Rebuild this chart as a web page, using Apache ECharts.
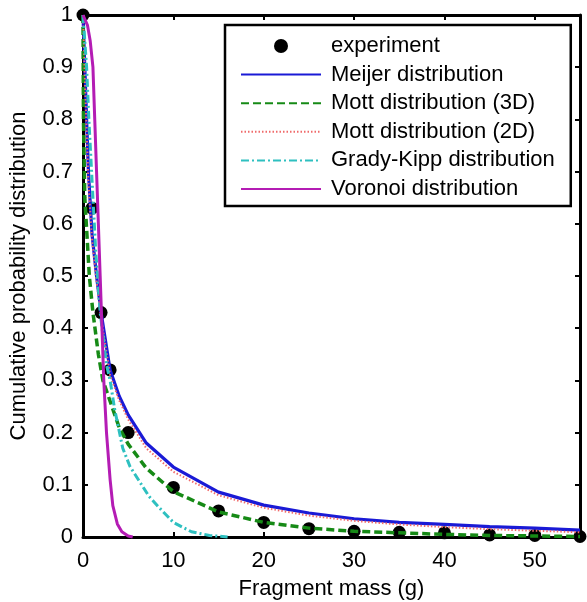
<!DOCTYPE html>
<html>
<head>
<meta charset="utf-8">
<script src="https://cdn.jsdelivr.net/npm/echarts@6/dist/echarts.min.js"></script>
<style>
html,body{margin:0;padding:0;background:#fff;}
#c{width:587px;height:602px;}
</style>
</head>
<body>
<div id="c"></div>
<script>
// ---- data ----
var xTicks = [0, 10, 20, 30, 40, 50];
var yTicks = [0, 0.1, 0.2, 0.3, 0.4, 0.5, 0.6, 0.7, 0.8, 0.9, 1];

var expX = [0, 1, 2, 3, 5, 10, 15, 20, 25, 30, 35, 40, 45, 50, 55];
var expY = [1, 0.63, 0.43, 0.32, 0.2, 0.095, 0.05, 0.028, 0.016, 0.011, 0.009, 0.008, 0.004, 0.003, 0.001];

var meijerX = [0, 0.2, 0.6, 1, 1.5, 2, 3, 4, 5, 7, 10, 15, 20, 25, 30, 35, 40, 45, 50, 55];
var meijerY = [1, 0.9, 0.7, 0.58, 0.5, 0.43, 0.32, 0.27, 0.234, 0.18, 0.134, 0.086, 0.061, 0.046, 0.035, 0.028, 0.024, 0.02, 0.017, 0.013];

var mott3dX = [0, 0.05, 0.2, 0.7, 1.1, 1.7, 2.2, 3, 4, 5, 7, 10, 15, 20, 25, 30, 35, 40, 45, 50, 55];
var mott3dY = [1, 0.8, 0.65, 0.5, 0.43, 0.35, 0.3, 0.26, 0.21, 0.178, 0.132, 0.087, 0.048, 0.028, 0.017, 0.011, 0.008, 0.005, 0.003, 0.002, 0.001];

var mott2dX = [0, 0.2, 0.6, 1, 1.5, 2, 3, 4, 5, 7, 10, 15, 20, 25, 30, 35, 40, 45, 50, 55];
var mott2dY = [1, 0.88, 0.68, 0.57, 0.49, 0.42, 0.31, 0.262, 0.225, 0.17, 0.125, 0.08, 0.056, 0.041, 0.031, 0.024, 0.019, 0.015, 0.012, 0.009];

var gkX = [0, 0.4, 0.65, 0.95, 1.4, 1.9, 2.6, 3, 3.5, 4.4, 5.2, 6.3, 7.3, 8.5, 10, 12, 14, 16];
var gkY = [1, 0.9, 0.8, 0.7, 0.55, 0.43, 0.33, 0.3, 0.245, 0.17, 0.135, 0.105, 0.078, 0.055, 0.028, 0.01, 0.003, 0];

var vorX = [0, 0.5, 0.8, 1.1, 1.3, 1.5, 1.7, 1.9, 2.1, 2.3, 2.6, 3.0, 3.3, 3.8, 4.3, 5, 5.5];
var vorY = [1, 0.98, 0.95, 0.9, 0.8, 0.7, 0.6, 0.5, 0.4, 0.3, 0.2, 0.11, 0.06, 0.025, 0.01, 0.002, 0];

var names = ['experiment', 'Meijer distribution', 'Mott distribution (3D)', 'Mott distribution (2D)', 'Grady-Kipp distribution', 'Voronoi distribution'];

function pairs(xs, ys) { return xs.map(function (x, i) { return [x, ys[i]]; }); }

var FONT = "'Liberation Sans', Arial, Helvetica, sans-serif";
var FS = 22;

var chart = echarts.init(document.getElementById('c'), null, {renderer: 'canvas'});

function axisCommon(showLabel) {
  return {
    axisLine: {show: true, onZero: false, lineStyle: {color: '#000', width: 3}},
    axisTick: {show: true, inside: true, length: 5, lineStyle: {color: '#000', width: 2}},
    splitLine: {show: false},
    axisLabel: {show: showLabel, color: '#000', fontSize: FS, fontFamily: FONT}
  };
}

var xb = axisCommon(true);
var xt = axisCommon(false);
var yl = axisCommon(true);
var yr = axisCommon(false);

var lineBase = {type: 'line', symbol: 'none', showSymbol: false, smooth: false, clip: false, animation: false, z: 3};

chart.setOption({
  animation: false,
  backgroundColor: '#fff',
  textStyle: {fontFamily: FONT},
  grid: {left: 83, right: 7, top: 15, bottom: 65, containLabel: false, outerBoundsMode: 'none'},
  xAxis: [
    Object.assign({type: 'value', position: 'bottom', min: xTicks[0], max: 55, interval: xTicks[1] - xTicks[0],
      name: 'Fragment mass (g)', nameLocation: 'middle', nameGap: 41,
      nameTextStyle: {color: '#000', fontSize: FS, fontFamily: FONT}}, xb,
      {axisLabel: Object.assign({}, xb.axisLabel, {margin: 13, showMaxLabel: false})}),
    Object.assign({type: 'value', position: 'top', min: xTicks[0], max: 55, interval: xTicks[1] - xTicks[0]}, xt)
  ],
  yAxis: [
    Object.assign({type: 'value', position: 'left', min: yTicks[0], max: yTicks[yTicks.length - 1], interval: 0.1,
      name: 'Cumulative probability distribution', nameLocation: 'middle', nameGap: 53,
      nameTextStyle: {color: '#000', fontSize: FS, fontFamily: FONT}}, yl,
      {axisLabel: Object.assign({}, yl.axisLabel, {margin: 10})}),
    Object.assign({type: 'value', position: 'right', min: yTicks[0], max: yTicks[yTicks.length - 1], interval: 0.1}, yr)
  ],
  legend: {
    orient: 'vertical',
    left: 225, top: 25,
    padding: [10, 16, 6, 15],
    itemWidth: 80, itemHeight: 14, itemGap: 6.6,
    backgroundColor: '#fff',
    borderColor: '#000', borderWidth: 2.5,
    textStyle: {color: '#000', fontSize: FS, fontFamily: FONT, lineHeight: 22, padding: [0, 0, 0, 5]},
    selectedMode: false,
    data: [
      {name: names[0], icon: 'circle', itemStyle: {color: '#000', opacity: 1}},
      {name: names[1], itemStyle: {opacity: 0}},
      {name: names[2], itemStyle: {opacity: 0}},
      {name: names[3], itemStyle: {opacity: 0}},
      {name: names[4], itemStyle: {opacity: 0}},
      {name: names[5], itemStyle: {opacity: 0}}
    ]
  },
  series: [
    {name: names[0], type: 'scatter', data: pairs(expX, expY), symbol: 'circle', symbolSize: 13,
      itemStyle: {color: '#000', opacity: 1}, clip: false, z: 2},
    Object.assign({}, lineBase, {name: names[1], data: pairs(meijerX, meijerY),
      lineStyle: {color: '#1a1ad6', width: 3.2, type: 'solid'}, itemStyle: {color: '#1a1ad6'}}),
    Object.assign({}, lineBase, {name: names[2], data: pairs(mott3dX, mott3dY),
      lineStyle: {color: '#168a16', width: 3.5, type: [8, 4]}, itemStyle: {color: '#168a16'}}),
    Object.assign({}, lineBase, {name: names[3], data: pairs(mott2dX, mott2dY),
      lineStyle: {color: '#f06a6a', width: 2, type: [1.5, 2]}, itemStyle: {color: '#f06a6a'}}),
    Object.assign({}, lineBase, {name: names[4], data: pairs(gkX, gkY),
      lineStyle: {color: '#2ec0c0', width: 3, type: [8, 3, 2, 3]}, itemStyle: {color: '#2ec0c0'}}),
    Object.assign({}, lineBase, {name: names[5], data: pairs(vorX, vorY),
      lineStyle: {color: '#b41cb4', width: 3, type: 'solid'}, itemStyle: {color: '#b41cb4'}})
  ]
});
</script>
</body>
</html>
